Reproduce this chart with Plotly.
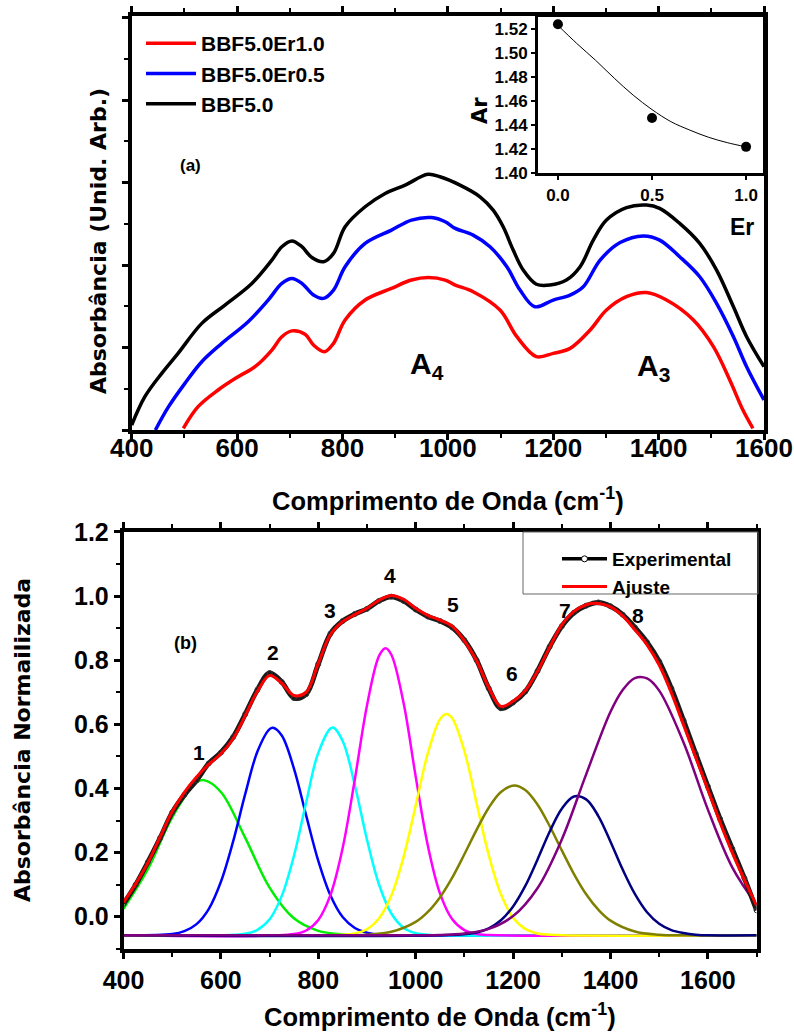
import plotly.graph_objects as go

W, H = 794, 1035

# ---------------- Panel (a) data ----------------
bbf50_x = [400, 425, 457, 488, 533, 577, 628, 666, 685, 704, 723, 742, 764, 783, 805, 843, 881, 919, 962, 985,
           1023, 1061, 1086, 1105, 1124, 1143, 1168, 1194, 1225, 1251, 1276, 1301, 1339, 1377, 1402, 1440, 1478,
           1510, 1542, 1567, 1600]
bbf50_y = [0.06, 0.40, 0.68, 0.92, 1.28, 1.50, 1.76, 2.04, 2.20, 2.27, 2.20, 2.07, 2.02, 2.12, 2.44, 2.68, 2.84,
           2.94, 3.07, 3.04, 2.94, 2.80, 2.64, 2.44, 2.16, 1.92, 1.75, 1.74, 1.80, 1.96, 2.28, 2.52, 2.67, 2.70,
           2.66, 2.48, 2.24, 1.92, 1.48, 1.12, 0.76]

er05_x = [445, 470, 501, 533, 571, 621, 659, 685, 704, 723, 745, 764, 783, 805, 843, 893, 931, 969, 995, 1014,
          1048, 1080, 1112, 1137, 1165, 1200, 1232, 1257, 1289, 1327, 1371, 1402, 1440, 1478, 1510, 1542, 1567,
          1600]
er05_y = [0.00, 0.28, 0.56, 0.82, 1.04, 1.30, 1.56, 1.76, 1.82, 1.76, 1.62, 1.58, 1.68, 1.96, 2.24, 2.40, 2.52,
          2.55, 2.50, 2.42, 2.34, 2.20, 1.96, 1.68, 1.48, 1.56, 1.62, 1.72, 2.04, 2.25, 2.33, 2.28, 2.08, 1.84,
          1.52, 1.12, 0.76, 0.36]

er10_x = [498, 526, 564, 602, 634, 666, 685, 704, 729, 745, 766, 783, 805, 843, 893, 931, 963, 995, 1014, 1048,
          1099, 1131, 1168, 1200, 1232, 1270, 1301, 1339, 1377, 1415, 1466, 1504, 1535, 1560, 1579]
er10_y = [0.02, 0.28, 0.48, 0.64, 0.76, 0.96, 1.12, 1.19, 1.15, 1.02, 0.94, 1.04, 1.32, 1.56, 1.70, 1.80, 1.83,
          1.80, 1.74, 1.66, 1.44, 1.12, 0.88, 0.92, 0.98, 1.20, 1.44, 1.60, 1.65, 1.56, 1.32, 1.00, 0.60, 0.24,
          0.02]

# inset
er_vals = [0.0, 0.5, 1.0]
ar_vals = [1.524, 1.446, 1.422]
fit_er = [0.0, 0.1, 0.2, 0.3, 0.4, 0.5, 0.6, 0.7, 0.8, 0.9, 1.0]
fit_ar = [1.523, 1.508, 1.494, 1.479, 1.465, 1.453, 1.443, 1.436, 1.430, 1.4255, 1.422]

# ---------------- Panel (b) data ----------------
wn = [400, 425, 450, 475, 500, 525, 550, 575, 600, 625, 650, 675, 700, 725, 750, 775, 800, 825, 850, 875, 900,
      925, 950, 975, 1000, 1025, 1050, 1075, 1100, 1125, 1150, 1175, 1200, 1225, 1250, 1275, 1300, 1325, 1350,
      1375, 1400, 1425, 1450, 1475, 1500, 1525, 1550, 1575, 1600, 1625, 1650, 1675, 1700]
experimental = [0.040, 0.100, 0.170, 0.245, 0.325, 0.380, 0.425, 0.478, 0.512, 0.560, 0.632, 0.708, 0.760, 0.732,
                0.682, 0.694, 0.788, 0.883, 0.922, 0.944, 0.960, 0.985, 0.998, 0.985, 0.958, 0.936, 0.922, 0.902,
                0.862, 0.800, 0.712, 0.650, 0.668, 0.702, 0.766, 0.842, 0.906, 0.948, 0.970, 0.980, 0.968, 0.942,
                0.902, 0.856, 0.796, 0.712, 0.612, 0.508, 0.406, 0.305, 0.212, 0.120, 0.020]
ajuste = [0.045, 0.103, 0.168, 0.248, 0.328, 0.388, 0.436, 0.475, 0.508, 0.555, 0.627, 0.703, 0.752, 0.728, 0.690,
          0.700, 0.790, 0.880, 0.920, 0.942, 0.962, 0.987, 1.002, 0.990, 0.962, 0.940, 0.925, 0.906, 0.860, 0.798,
          0.715, 0.656, 0.672, 0.705, 0.765, 0.840, 0.910, 0.952, 0.973, 0.977, 0.966, 0.938, 0.895, 0.848, 0.785,
          0.698, 0.598, 0.497, 0.396, 0.294, 0.200, 0.115, 0.035]

g1_x = [400, 450, 500, 550, 565, 600, 650, 700, 750, 800, 850, 900, 1700]
g1_y = [0.025, 0.148, 0.310, 0.419, 0.426, 0.389, 0.246, 0.091, -0.005, -0.044, -0.055, -0.058, -0.058]
g2_x = [400, 500, 525, 550, 575, 600, 625, 650, 675, 700, 707, 725, 750, 775, 800, 825, 850, 875, 900, 925, 950, 1700]
g2_y = [-0.058, -0.054, -0.045, -0.023, 0.024, 0.109, 0.234, 0.383, 0.515, 0.585, 0.589, 0.565, 0.462, 0.316,
        0.174, 0.066, -0.001, -0.035, -0.050, -0.056, -0.058, -0.058]
g3_x = [400, 650, 675, 700, 725, 750, 775, 800, 829, 850, 875, 900, 925, 950, 975, 1000, 1025, 1050, 1700]
g3_y = [-0.058, -0.053, -0.041, -0.008, 0.065, 0.190, 0.356, 0.511, 0.590, 0.548, 0.410, 0.240, 0.099, 0.010,
        -0.034, -0.051, -0.056, -0.058, -0.058]
g4_x = [400, 750, 775, 800, 825, 850, 875, 900, 925, 938, 950, 975, 1000, 1025, 1050, 1075, 1100, 1125, 1150, 1700]
g4_y = [-0.058, -0.054, -0.043, -0.010, 0.068, 0.214, 0.428, 0.659, 0.814, 0.837, 0.817, 0.667, 0.437, 0.221,
        0.072, -0.008, -0.042, -0.054, -0.057, -0.058]
g5_x = [400, 850, 875, 900, 925, 950, 975, 1000, 1025, 1050, 1063, 1075, 1100, 1125, 1150, 1175, 1200, 1225, 1250,
        1275, 1300, 1700]
g5_y = [-0.058, -0.056, -0.052, -0.039, -0.005, 0.066, 0.186, 0.347, 0.510, 0.616, 0.632, 0.619, 0.516, 0.354,
        0.192, 0.070, -0.003, -0.038, -0.052, -0.056, -0.058, -0.058]
g6_x = [400, 850, 900, 950, 1000, 1025, 1050, 1075, 1100, 1125, 1150, 1175, 1202, 1225, 1250, 1275, 1300, 1325,
        1350, 1375, 1400, 1450, 1500, 1550, 1700]
g6_y = [-0.058, -0.058, -0.056, -0.047, -0.016, 0.015, 0.061, 0.122, 0.195, 0.271, 0.340, 0.389, 0.409, 0.395,
        0.350, 0.283, 0.207, 0.133, 0.070, 0.022, -0.012, -0.046, -0.056, -0.058, -0.058]
g7_x = [400, 1100, 1125, 1150, 1175, 1200, 1225, 1250, 1275, 1300, 1325, 1350, 1375, 1400, 1425, 1450, 1475, 1500,
        1525, 1550, 1575, 1600, 1700]
g7_y = [-0.058, -0.055, -0.049, -0.036, -0.011, 0.032, 0.096, 0.178, 0.265, 0.337, 0.375, 0.366, 0.314, 0.234,
        0.147, 0.071, 0.014, -0.022, -0.042, -0.051, -0.056, -0.058, -0.058]
g8_x = [400, 1000, 1050, 1100, 1150, 1200, 1250, 1300, 1350, 1400, 1425, 1450, 1475, 1500, 1550, 1600, 1650, 1700]
g8_y = [-0.058, -0.058, -0.057, -0.052, -0.038, 0.002, 0.089, 0.241, 0.444, 0.639, 0.707, 0.744, 0.743, 0.705,
        0.543, 0.334, 0.154, 0.037]

peak_labels = ["1", "2", "3", "4", "5", "6", "7", "8"]

# ---------------- helpers (pixel -> paper) ----------------
def px(x):
    return x / W


def py(y):
    return 1 - y / H


SANS = "Liberation Sans, Arial, sans-serif"
WIDE = "DejaVu Sans, sans-serif"

fig = go.Figure()

# Panel (a) curves
fig.add_trace(go.Scatter(x=er10_x, y=er10_y, mode="lines", line=dict(color="#ff0000", width=3.5, shape="spline"),
                         name="BBF5.0Er1.0", xaxis="x", yaxis="y", legend="legend"))
fig.add_trace(go.Scatter(x=er05_x, y=er05_y, mode="lines", line=dict(color="#0000ff", width=3.5, shape="spline"),
                         name="BBF5.0Er0.5", xaxis="x", yaxis="y", legend="legend"))
fig.add_trace(go.Scatter(x=bbf50_x, y=bbf50_y, mode="lines", line=dict(color="#000000", width=3.5, shape="spline"),
                         name="BBF5.0", xaxis="x", yaxis="y", legend="legend"))

# inset
fig.add_trace(go.Scatter(x=fit_er, y=fit_ar, mode="lines", line=dict(color="black", width=1, shape="spline"),
                         showlegend=False, xaxis="x2", yaxis="y2"))
fig.add_trace(go.Scatter(x=er_vals, y=ar_vals, mode="markers", marker=dict(color="black", size=10),
                         showlegend=False, xaxis="x2", yaxis="y2"))

# Panel (b) components
comp = [(g1_x, g1_y, "#00ee00"), (g2_x, g2_y, "#0000ff"), (g3_x, g3_y, "#00ffff"), (g4_x, g4_y, "#ff00ff"),
        (g5_x, g5_y, "#ffff00"), (g6_x, g6_y, "#808000"), (g7_x, g7_y, "#000080"), (g8_x, g8_y, "#800080")]
for gx, gy, col in comp:
    fig.add_trace(go.Scatter(x=gx, y=gy, mode="lines", line=dict(color=col, width=2.5, shape="spline"),
                             showlegend=False, xaxis="x3", yaxis="y3"))

fig.add_trace(go.Scatter(x=wn, y=experimental, mode="lines+markers",
                         line=dict(color="#1a1a1a", width=5, shape="spline"),
                         marker=dict(symbol="circle-open", size=5, color="#333333", line=dict(width=1)),
                         showlegend=False, xaxis="x3", yaxis="y3"))
fig.add_trace(go.Scatter(x=[None], y=[None], mode="lines+markers", name="Experimental",
                         line=dict(color="black", width=3.5),
                         marker=dict(symbol="circle", size=6, color="white", line=dict(color="black", width=1)),
                         xaxis="x3", yaxis="y3", legend="legend2"))
fig.add_trace(go.Scatter(x=wn, y=ajuste, mode="lines", name="Ajuste",
                         line=dict(color="#ff0000", width=3, shape="spline"),
                         xaxis="x3", yaxis="y3", legend="legend2"))

axis_common = dict(showline=True, linecolor="black", showgrid=False, zeroline=False,
                   ticks="outside", tickcolor="black", automargin=False)

fig.update_layout(
    template="none",
    width=W, height=H, margin=dict(l=0, r=0, t=0, b=0, pad=0, autoexpand=False),
    paper_bgcolor="white", plot_bgcolor="white",
    font=dict(family=SANS, color="black"),
    xaxis=dict(domain=[px(131.7), px(764)], range=[400, 1600], dtick=200, tick0=400,
               linewidth=3.5, ticklen=6, tickwidth=3, mirror="ticks", ticklabelstandoff=-14,
               minor=dict(dtick=100, ticklen=4, tickwidth=2, ticks="outside", tickcolor="black"),
               tickfont=dict(family=SANS, size=26, weight="bold"),
               anchor="y", **axis_common),
    yaxis=dict(domain=[py(430), py(16)], range=[0, 4.97], dtick=0.99, tick0=0, showticklabels=False,
               linewidth=3.5, ticklen=6, tickwidth=3, mirror=True,
               minor=dict(dtick=0.495, ticklen=4, tickwidth=2, ticks="outside", tickcolor="black"),
               anchor="x", **axis_common),
    xaxis2=dict(domain=[px(538), px(763)], range=[-0.106, 1.09], tickvals=[0, 0.5, 1.0],
                ticktext=["0.0", "0.5", "1.0"], linewidth=3, ticklen=4, tickwidth=2, mirror=True,
                tickfont=dict(family=SANS, size=17, weight="bold"), anchor="y2", **axis_common),
    yaxis2=dict(domain=[py(173.3), py(17)], range=[1.40, 1.530], dtick=0.02, tick0=1.40, tickformat=".2f",
                linewidth=3, ticklen=4, tickwidth=2, mirror=True,
                tickfont=dict(family=SANS, size=17, weight="bold"), anchor="x2", **axis_common),
    xaxis3=dict(domain=[px(123.5), px(756.6)], range=[400, 1700], dtick=200, tick0=400,
                linewidth=3.5, ticklen=6, tickwidth=3, mirror="ticks",
                minor=dict(dtick=100, ticklen=4, tickwidth=2, ticks="outside", tickcolor="black"),
                tickfont=dict(family=SANS, size=25, weight="bold"),
                anchor="y3", **axis_common),
    yaxis3=dict(domain=[py(948.8), py(531.9)], range=[-0.1, 1.2], dtick=0.2, tick0=0, tickformat=".1f",
                linewidth=3.5, ticklen=6, tickwidth=3, mirror=True,
                minor=dict(dtick=0.1, ticklen=4, tickwidth=2, ticks="outside", tickcolor="black"),
                tickfont=dict(family=SANS, size=25, weight="bold"), anchor="x3", **axis_common),
    legend=dict(x=px(141), y=py(23), xanchor="left", yanchor="top", bgcolor="rgba(0,0,0,0)",
                font=dict(family=SANS, size=21, weight="bold"), itemwidth=50, tracegroupgap=0),
    legend2=dict(x=px(557), y=py(540), xanchor="left", yanchor="top", bgcolor="rgba(0,0,0,0)",
                 font=dict(family=SANS, size=19, weight="bold"), itemwidth=45, tracegroupgap=0),
)

# legend frame in panel (b)
fig.add_shape(type="rect", xref="paper", yref="paper", x0=px(523), x1=px(758), y0=py(594), y1=py(532),
              line=dict(color="#666666", width=1), fillcolor="rgba(0,0,0,0)", layer="above")

ann = []


def add_text(x, y, text, size, family=SANS, angle=0, xanchor="center", yanchor="middle"):
    ann.append(dict(x=px(x), y=py(y), xref="paper", yref="paper", text=text, showarrow=False,
                    textangle=angle, xanchor=xanchor, yanchor=yanchor,
                    font=dict(family=family, size=size, color="black", weight="bold")))


add_text(190, 165, "(a)", 17)
add_text(185, 643, "(b)", 18)
add_text(408, 365, "A<sub>4</sub>", 30, xanchor="left")
add_text(635, 367, "A<sub>3</sub>", 30, xanchor="left")
add_text(98, 241, "Absorbância (Unid. Arb.)", 22, family=WIDE, angle=-90)
add_text(22, 740, "Absorbância Normailizada", 22, family=WIDE, angle=-90)
add_text(448, 499, "Comprimento de Onda (cm<sup>-1</sup>)", 25.5)
add_text(440, 1015, "Comprimento de Onda (cm<sup>-1</sup>)", 25.5)
add_text(480, 111, "Ar", 21, family=WIDE, angle=-90)
add_text(742, 227, "Er", 23)

label_pos = [(199, 753), (273, 652), (330, 610), (390, 575), (453, 604), (512, 673), (565, 610), (638, 615)]
for lab, (lx, ly) in zip(peak_labels, label_pos):
    add_text(lx, ly, lab, 21)

fig.update_layout(annotations=ann)

fig.write_html("out.html")
